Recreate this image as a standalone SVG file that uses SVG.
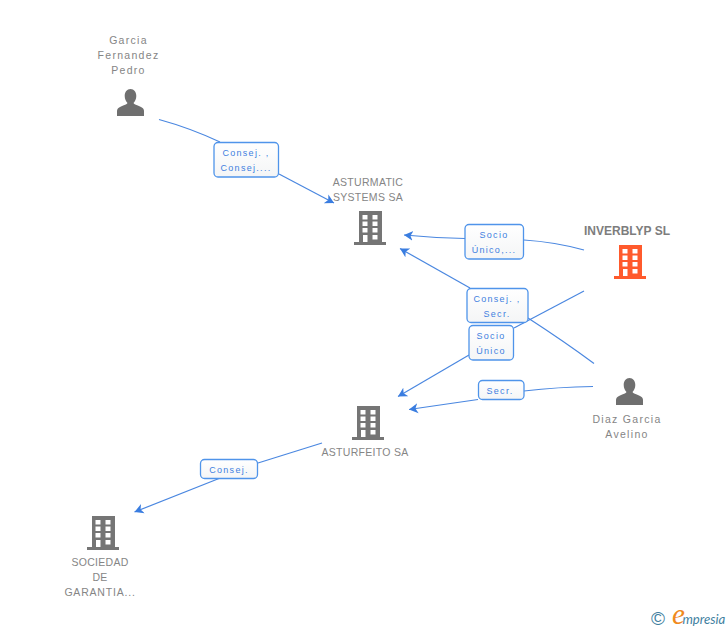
<svg xmlns="http://www.w3.org/2000/svg" width="728" height="630" viewBox="0 0 728 630">
<style>
text{font-family:"Liberation Sans",Arial,sans-serif;text-anchor:middle}
.n{font-size:10.5px;fill:#858585;letter-spacing:1.3px}
.u{letter-spacing:.3px}
.t{font-size:12px;font-weight:bold;fill:#7d7d7d}
.l{font-size:9px;fill:#3f7fe0;letter-spacing:1.3px}
.c{fill:none;stroke:#4a87e0;stroke-width:1.2;marker-end:url(#a)}
.s{fill:none;stroke:#4a87e0;stroke-width:1.2}
.b{fill:url(#g);stroke:#4f94ea;stroke-width:1.3}
</style>
<defs>
<linearGradient id="g" x1="0" y1="0" x2="0" y2="1"><stop offset="0" stop-color="#fff"/><stop offset="1" stop-color="#f4f5f6"/></linearGradient>
<marker id="a" markerUnits="userSpaceOnUse" markerWidth="12" markerHeight="12" refX="9" refY="5.5" orient="auto"><path d="M0 0.500L9 5.500L0 10.500L2.500 5.500Z" fill="#3a7de0"/></marker>
<symbol id="bld" overflow="visible"><path fill-rule="evenodd" d="M5 0H28V31H32V34H0V31H5ZM8.500 4V8.500H13.500V4ZM18.500 4V8.500H23.500V4ZM8.500 10.500V15H13.500V10.500ZM18.500 10.500V15H23.500V10.500ZM8.500 17V21.500H13.500V17ZM18.500 17V21.500H23.500V17ZM18.500 24V28.500H23.500V24ZM9 24V31H13.500V24Z"/></symbol>
<symbol id="per" overflow="visible"><path d="M13.500 0C17 0 19.300 3 19.300 7C19.300 10 18 12.500 16.500 14C17 15.500 20 16 23 17.500C26 18.800 27 20 27 22V27H0V22C0 20 1 18.800 4 17.500C7 16 10 15.500 10.500 14C9 12.500 7.700 10 7.700 7C7.700 3 10 0 13.500 0Z"/></symbol>
</defs>
<g id="connectors">
<path class="s" d="M159 119.500Q190 128 220 142"/>
<path class="c" d="M279 174L334 203"/>
<path class="s" d="M584 250Q555 242 524 240"/>
<path class="c" d="M465 238.500Q435 238 404 235"/>
<path class="s" d="M594 363.500Q565 342 528 318"/>
<path class="c" d="M470 288L400 248.500"/>
<path class="s" d="M584 291L514 328"/>
<path class="c" d="M469 355L398 396.500"/>
<path class="s" d="M593 386.500Q558 387 524 391"/>
<path class="c" d="M478 399.500L409 409.500"/>
<path class="s" d="M322 443L258 463"/>
<path class="c" d="M219 478.500L134.500 512"/>
</g>
<g id="label-consej1"><rect class="b" x="214" y="142.500" width="64.500" height="34.500" rx="4"/><text class="l" x="246" y="156">Consej. ,</text><text class="l" x="246" y="171">Consej....</text></g>
<g id="label-socio1"><rect class="b" x="465" y="224.500" width="58.500" height="34.500" rx="4"/><text class="l" x="494" y="238">Socio</text><text class="l" x="494" y="253">Único,...</text></g>
<g id="label-consej2"><rect class="b" x="467" y="288.500" width="61" height="34" rx="4"/><text class="l" x="497" y="302">Consej. ,</text><text class="l" x="497" y="317">Secr.</text></g>
<g id="label-socio2"><rect class="b" x="469" y="325.500" width="44.500" height="34.500" rx="4"/><text class="l" x="491" y="339">Socio</text><text class="l" x="491" y="354">Único</text></g>
<g id="label-secr"><rect class="b" x="478.500" y="380.500" width="45.500" height="19" rx="4"/><text class="l" x="500" y="394">Secr.</text></g>
<g id="label-consej3"><rect class="b" x="200.500" y="459.500" width="57" height="19" rx="4"/><text class="l" x="229" y="472.500">Consej.</text></g>
<g id="garcia"><use href="#per" x="117" y="89" fill="#6f6f6f"/><text class="n" x="128.500" y="44">Garcia</text><text class="n" x="128.500" y="59">Fernandez</text><text class="n" x="128.500" y="74">Pedro</text></g>
<g id="asturmatic"><use href="#bld" x="354" y="211" fill="#757575"/><text class="n u" x="368" y="186">ASTURMATIC</text><text class="n u" x="368" y="201">SYSTEMS SA</text></g>
<g id="inverblyp"><use href="#bld" x="614" y="245" fill="#ff5a2c"/><text class="t" x="627" y="235">INVERBLYP SL</text></g>
<g id="diaz"><use href="#per" x="616" y="378" fill="#6f6f6f"/><text class="n" x="627" y="423">Diaz Garcia</text><text class="n" x="627" y="438">Avelino</text></g>
<g id="asturfeito"><use href="#bld" x="352" y="406" fill="#757575"/><text class="n u" x="365" y="456">ASTURFEITO SA</text></g>
<g id="sociedad"><use href="#bld" x="87" y="516" fill="#757575"/><text class="n u" x="100" y="566">SOCIEDAD</text><text class="n u" x="100" y="581">DE</text><text class="n" x="100" y="596" style="letter-spacing:.8px">GARANTIA...</text></g>
<g id="logo"><text x="658" y="625" style="font-size:19px;fill:#3f7f9f">©</text><text x="672" y="623.500" style="text-anchor:start;font-size:13.200px;font-style:italic;fill:#3f7f9f;font-family:'Lato',sans-serif"><tspan style="font-size:29px;fill:#f08a1d;font-family:'Liberation Serif',serif">e</tspan><tspan dx="-2.500">mpresia</tspan></text></g>
</svg>
